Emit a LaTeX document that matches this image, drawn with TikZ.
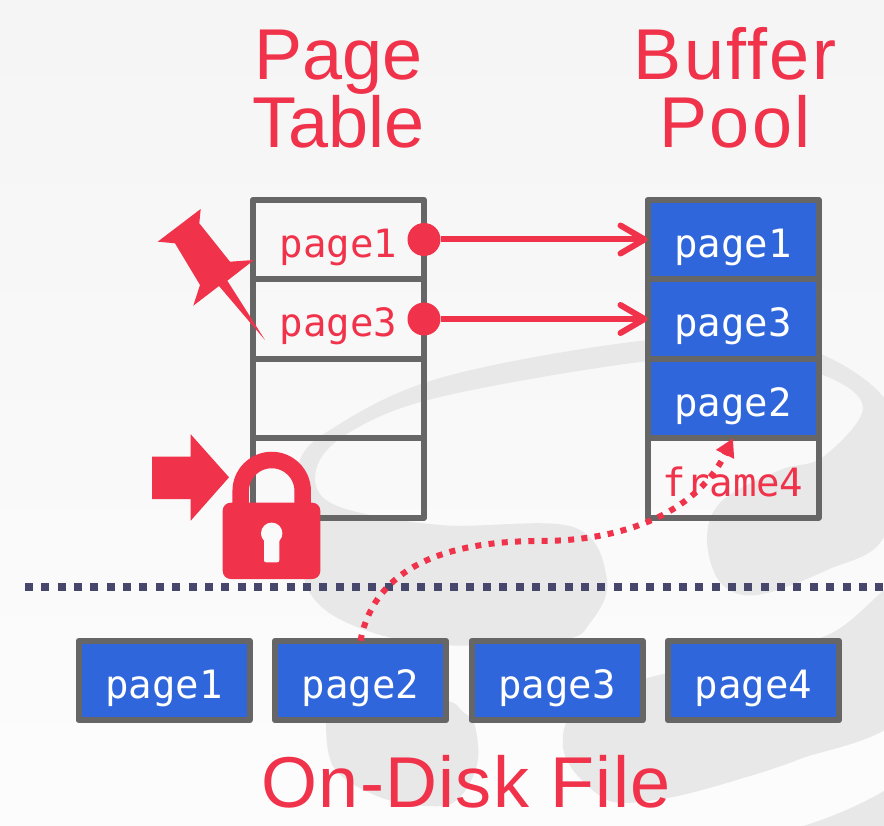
\documentclass[tikz,border=0pt]{standalone}
\usepackage{fontspec}
\setmainfont{Liberation Sans}
\newfontfamily\labelfont{DejaVu Sans Mono}
\newfontfamily\wideheadfont[LetterSpace=3.2]{Liberation Sans}
\newfontfamily\filenamefont[LetterSpace=1.8]{Liberation Sans}
\usetikzlibrary{positioning,arrows.meta}
\definecolor{slidered}{HTML}{F0324A}
\definecolor{slideblue}{HTML}{3066DB}
\definecolor{slidegrey}{HTML}{666666}
\definecolor{slidenavy}{HTML}{47476B}
\definecolor{marklight}{HTML}{E8E8E8}
\tikzset{
  slot/.style={draw=slidegrey, line width=6pt, line join=round, minimum width=171pt, minimum height=79.5pt,
    inner sep=0pt, outer sep=0pt, text height=45pt, text depth=9pt,
    font=\labelfont\fontsize{39}{40}\selectfont},
  tableslot/.style={slot, text=slidered},
  pageslot/.style={slot, fill=slideblue, text=white},
  heading/.style={text=slidered, inner sep=0pt, outer sep=0pt, align=center,
    font=\fontsize{72}{68}\selectfont},
  refdot/.style={circle, fill=slidered, inner sep=0pt, minimum size=33pt},
  refarrow/.style={draw=slidered, line width=6pt, -{Straight Barb[length=24pt,width=28pt,line width=6pt,round]}},
  fetcharrow/.style={draw=slidered, line width=6pt, dash pattern=on 6pt off 7.3pt,
    -{Triangle[length=18pt,width=19pt]}},
  icon/.style={fill=slidered, draw=none}
}
\begin{document}
\begin{tikzpicture}[x=1pt,y=-1pt]
  \useasboundingbox (0,0) rectangle (884,826);
  \fill[top color=black!4, bottom color=black!1] (0,0) rectangle (884,826);
  \begin{scope}
    \clip (0,0) rectangle (884,826);
    \fill[marklight] plot[smooth cycle, tension=0.6] coordinates {(297,468) (330,430) (440,378) (640,341) (760,342)
      (823,355) (880,393) (900,440) (884,537) (827,570) (757,595) (720,582) (707,537) (723,500) (780,470) (823,457)
      (863,408) (823,375) (740,360) (640,362) (440,397) (350,432) (316,470) (335,505) (440,525) (573,527)
      (607,580) (590,623) (560,640) (440,645) (357,627) (310,593) (298,530)};
    \fill[marklight] plot[smooth cycle, tension=0.6] coordinates {(327,710) (333,766) (377,796) (427,806) (457,800)
      (477,765) (475,726) (463,712) (440,700) (340,700)};
    \fill[marklight] plot[smooth cycle, tension=0.5] coordinates {(563,747) (573,713) (640,680) (823,637) (900,585)
      (900,716) (800,759) (740,779) (673,797) (613,802) (577,775)};
    \fill[marklight] (803,826) .. controls (830,818) and (860,805) .. (884,791) -- (884,826) -- cycle;
  \end{scope}

  \node[tableslot] (pt1) at (338.5,239.5) {page1};
  \node[tableslot, below=0pt of pt1] (pt2) {page3};
  \node[tableslot, below=0pt of pt2] (pt3) {};
  \node[tableslot, below=0pt of pt3] (pt4) {};

  \node[pageslot] (bp1) at (733,239.5) {page1};
  \node[pageslot, below=0pt of bp1] (bp2) {page3};
  \node[pageslot, below=0pt of bp2] (bp3) {page2};
  \node[tableslot, below=0pt of bp3] (bp4) {frame4};

  \node[pageslot] (disk1) at (164,680.5) {page1};
  \node[pageslot] (disk2) at (360.5,680.5) {page2};
  \node[pageslot] (disk3) at (557,680.5) {page3};
  \node[pageslot] (disk4) at (753.5,680.5) {page4};

  \node[heading, above=52pt of pt1] (ptname) {Page\\Table};
  \node[heading, above=52pt of bp1, xshift=2pt] (bpname) {\wideheadfont Buffer\\\wideheadfont Pool};
  \node[heading, anchor=base] (diskname) at (466,807) {\filenamefont On-Disk File};

  \coordinate (sepl) at (25,587);
  \coordinate (sepr) at (884,587);
  \draw[slidenavy, line width=8pt, dash pattern=on 8pt off 8.35pt] (sepl) -- (sepr);

  \node[refdot] (dot1) at (pt1.east) {};
  \node[refdot] (dot2) at (pt2.east) {};
  \draw[refarrow] (dot1) -- (bp1.west);
  \draw[refarrow] (dot2) -- (bp2.west);
  \draw[fetcharrow] (disk2.north) .. controls (375,565) and (450,541) .. (540,541)
    .. controls (620,541) and (695,515) .. (bp4.north);

  \fill[icon] (200.7,209) -- (157.7,241.7) -- (175,243.3) -- (200,285) -- (193.3,305.7) -- (219,286)
    -- (265,340) -- (227.3,280.7) -- (254,260) -- (230,261.7) -- (199.3,223.3) -- cycle;
  \fill[icon] (152,456.7) -- (190.7,456.7) -- (190.7,434.3) -- (229,477.3) -- (190.7,520.7) -- (190.7,499)
    -- (152,499) -- cycle;
  \draw[slidered, line width=16.5pt] (240.7,510) -- (240.7,491) arc[start angle=180, end angle=0, radius=31pt] -- (302.7,510);
  \fill[icon, rounded corners=8pt] (222.7,502.7) rectangle (320.3,579);
  \fill[black!2] (271.7,533.3) circle (10.7pt);
  \fill[black!2, rounded corners=2pt] (264,535) rectangle (279.3,562.3);
\end{tikzpicture}
\end{document}
